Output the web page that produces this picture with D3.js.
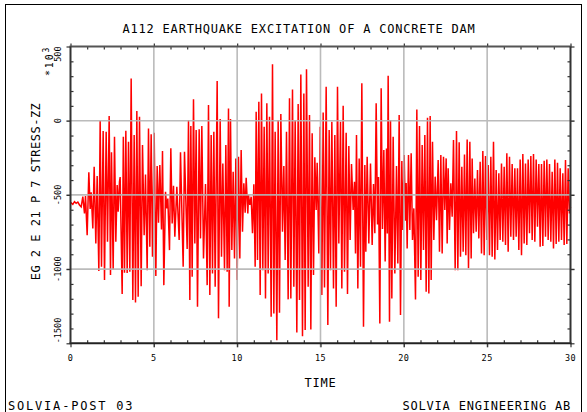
<!DOCTYPE html>
<html><head><meta charset="utf-8">
<script src="https://cdn.jsdelivr.net/npm/d3@7"></script>
<style>
body{margin:0;background:#fff}
svg{display:block}
text{font-family:"DejaVu Sans Mono",monospace;fill:#000}
</style>
</head><body>
<svg id="c" width="587" height="412"></svg>
<script>
// ---- data (stress in units of 10^3: successive peaks / troughs) ----
const time = [
0,0.14,0.24,0.34,0.44,0.54,0.64,0.74,0.84,0.90,1.00,1.10,1.18,1.24,1.34,1.42,1.52,1.60,1.70,1.78,1.86,1.96,2.04,2.14,2.22,2.32,2.40,2.46,2.56,2.64,2.72,2.80,2.86,2.94,2.98,3.10,3.17,3.24,3.32,3.40,3.48,3.56,3.64,3.74,3.82,3.90,3.98,4.06,4.14,4.24,4.32,4.42,4.50,4.60,4.68,4.76,4.84,4.92,5.02,5.12,5.20,5.28,5.36,5.46,5.52,5.60,5.70,5.78,5.84,
5.94,6.02,6.10,6.18,6.26,6.38,6.52,6.60,6.76,6.84,7.00,7.08,7.16,7.22,7.30,7.38,7.46,7.54,7.62,7.72,7.80,7.88,7.98,8.10,8.20,8.28,8.36,8.44,8.52,8.60,8.68,8.80,8.88,8.98,9.06,9.14,9.24,9.32,9.40,9.48,9.52,9.60,9.68,9.76,9.84,9.92,10.00,10.08,10.16,10.24,10.32,10.40,10.48,10.54,10.64,10.68,10.76,10.84,10.92,11.00,11.08,11.14,11.22,11.30,11.38,11.46,11.54,11.62,11.70,11.78,11.86,
11.94,12.04,12.12,12.20,12.28,12.38,12.46,12.54,12.62,12.72,12.80,12.88,12.96,13.06,13.14,13.22,13.32,13.40,13.48,13.58,13.66,13.74,13.82,13.92,14.00,14.08,14.16,14.26,14.34,14.42,14.50,14.58,14.66,14.74,14.80,14.90,14.98,15.08,15.16,15.24,15.34,15.44,15.52,15.60,15.68,15.78,15.86,15.94,16.02,16.10,16.20,16.28,16.36,16.44,16.54,16.62,16.70,16.78,16.86,16.96,17.04,17.10,17.16,17.24,17.32,17.40,17.48,17.58,17.66,17.72,17.80,17.90,
18.00,18.10,18.18,18.26,18.34,18.42,18.48,18.56,18.64,18.72,18.80,18.88,18.96,19.01,19.06,19.14,19.20,19.28,19.36,19.46,19.56,19.64,19.72,19.80,19.88,19.94,20.02,20.10,20.14,20.20,20.28,20.36,20.44,20.52,20.60,20.70,20.78,20.86,20.94,21.02,21.10,21.18,21.26,21.34,21.42,21.50,21.58,21.64,21.72,21.80,21.88,21.96,22.06,22.14,22.22,22.30,22.38,22.46,22.54,22.60,22.66,22.74,22.82,22.90,22.98,23.08,23.16,23.24,23.32,23.40,23.48,23.56,23.64,23.72,23.80,23.88,
23.96,24.04,24.10,24.18,24.26,24.34,24.42,24.50,24.58,24.66,24.74,24.82,24.90,24.98,25.06,25.14,25.22,25.30,25.38,25.46,25.54,25.62,25.70,25.78,25.86,25.94,26.02,26.10,26.18,26.26,26.34,26.42,26.50,26.58,26.66,26.74,26.82,26.90,26.98,27.06,27.14,27.22,27.30,27.38,27.46,27.54,27.62,27.70,27.78,27.86,27.94,28.02,28.10,28.18,28.26,28.34,28.42,28.50,28.58,28.66,28.74,28.82,28.90,28.98,29.06,29.14,29.22,29.30,29.38,29.46,29.54,29.62,29.70,29.78,29.86,29.94,30.00
];
const stress = [
-550,-564,-546,-557,-548,-568,-580,-512,-625,-508,-771,-348,-595,-483,-726,-310,-827,-373,-1013,0,-984,-70,-1074,-74,-815,31,-1040,-213,-1002,-108,-815,-434,-613,-411,-380,-1168,-108,-1025,-67,-1027,-142,-1018,285,-1209,-97,-1225,65,-1186,27,-1115,-164,-771,-362,-1007,-52,-849,-92,-917,-81,-1047,-306,-688,-299,-733,-204,-1108,-479,-591,-524,
-872,-186,-692,-438,-782,-445,-804,-213,-984,-209,-865,4,-1209,-36,-1052,144,-827,-63,-1254,-58,-793,-36,-928,-427,-1108,106,-1175,-97,-1029,-74,-1119,267,-1332,11,-917,-288,-1007,-164,-1018,83,-1254,11,-872,-344,-928,-254,-1074,-243,-928,-198,-748,-422,-620,-384,-625,-501,-568,-512,-759,-429,-984,61,-939,128,-1175,184,-1007,-40,-1198,117,-1029,
27,-1321,380,-1299,-74,-1479,4,-1294,45,-748,-306,-939,-74,-1204,151,-1198,211,-1119,4,-1427,112,-1209,312,-1452,184,-1411,346,-1119,38,-1407,-85,-1040,-247,-602,-283,-894,-40,-1175,56,-1124,229,-1377,-63,-1007,-7,-1130,-97,-1254,229,-827,-7,-1130,101,-1018,-81,-1168,-171,-804,-292,-602,-411,-894,-97,-1130,-254,-984,252,-1389,-299,-883,-243,-827,
-288,-838,-427,-759,117,-700,-380,-1366,218,-730,-198,-949,-187,-760,303,-1355,4,-1198,-108,-1029,-306,-962,38,-1310,-272,-737,-232,-674,-420,-861,-231,-737,-220,-804,-591,-1204,76,-1052,-36,-1074,-164,-872,-97,-1153,20,-1164,31,-1074,-142,-804,-377,-670,-265,-883,-231,-894,-243,-602,-254,-827,-321,-737,-422,-647,-130,-1007,-70,-1007,-146,-917,-310,-883,-227,-906,-126,-995,
-142,-928,-254,-759,-389,-748,-333,-793,-276,-894,-204,-906,-238,-804,-299,-906,-243,-917,-142,-935,-333,-872,-355,-804,-288,-816,-310,-838,-220,-883,-243,-782,-292,-804,-321,-782,-321,-872,-261,-906,-225,-827,-288,-838,-261,-759,-238,-804,-225,-816,-261,-715,-292,-849,-292,-845,-270,-782,-261,-804,-292,-816,-344,-861,-261,-831,-283,-816,-321,-804,-355,-838,-265,-831,-321,-625,-580
];
const xMajor = [0,5,10,15,20,25,30];
const yMajor = [500,0,-500,-1000,-1500];
const title = "A112 EARTHQUAKE EXCITATION OF A CONCRETE DAM";
const xTitle = "TIME";
const yTitle = "EG 2 E 21 P 7 STRESS-ZZ";
const footLeft = "SOLVIA-POST 03";
const footRight = "SOLVIA ENGINEERING AB";

// ---- drawing ----
const svg = d3.select("#c");
const L = 70.5, R = 570.5, T = 46.5, B = 343.3;
const x = d3.scaleLinear().domain([0, 30]).range([L, R]);
const y = d3.scaleLinear().domain([-1500, 500]).range([B, T]);
const xMinor = d3.range(0, 31, 1).filter(v => !xMajor.includes(v));
const yMinor = d3.range(-1500, 501, 100).filter(v => !yMajor.includes(v));

// page frame
svg.append("rect").attr("x", 5.5).attr("y", 4.5).attr("width", 576).attr("height", 430)
  .attr("fill", "none").attr("stroke", "#000").attr("stroke-width", 1);

// curve
const pts = time.map((t, i) => [t, stress[i]]);
svg.append("path").datum(pts)
  .attr("d", d3.line().x(d => x(d[0])).y(d => y(d[1])))
  .attr("fill", "none").attr("stroke", "#ff0000").attr("stroke-width", 1.5)
  .attr("stroke-linejoin", "miter");

// grid (drawn over curve)
const grid = svg.append("g").attr("stroke", "#b4b4b4").attr("stroke-width", 1.6).attr("opacity", 0.9);
grid.selectAll("line.v").data(xMajor.slice(1, -1)).join("line")
  .attr("x1", d => x(d)).attr("x2", d => x(d)).attr("y1", T).attr("y2", B + 4);
grid.selectAll("line.h").data(yMajor.slice(1, -1)).join("line")
  .attr("x1", L - 4).attr("x2", R + 4).attr("y1", d => y(d)).attr("y2", d => y(d));

// axes ticks using d3 axes
function styleAxis(g) {
  g.select(".domain").remove();
  g.selectAll(".tick line").attr("stroke", "#333").attr("stroke-width", 1.2);
  g.selectAll(".tick text").remove();
}
svg.append("g").attr("transform", `translate(0,${B})`)
  .call(d3.axisTop(x).tickValues(xMinor).tickSize(3)).call(styleAxis);
svg.append("g").attr("transform", `translate(0,${B})`)
  .call(d3.axisBottom(x).tickValues(xMajor).tickSize(4)).call(styleAxis);
svg.append("g").attr("transform", `translate(0,${T})`)
  .call(d3.axisBottom(x).tickValues(xMinor).tickSize(3)).call(styleAxis);
svg.append("g").attr("transform", `translate(0,${T})`)
  .call(d3.axisTop(x).tickValues(xMajor).tickSize(3)).call(styleAxis);
svg.append("g").attr("transform", `translate(${L},0)`)
  .call(d3.axisRight(y).tickValues(yMinor).tickSize(3)).call(styleAxis);
svg.append("g").attr("transform", `translate(${L},0)`)
  .call(d3.axisLeft(y).tickValues(yMajor).tickSize(4)).call(styleAxis);
svg.append("g").attr("transform", `translate(${R},0)`)
  .call(d3.axisLeft(y).tickValues(yMinor).tickSize(3)).call(styleAxis);
svg.append("g").attr("transform", `translate(${R},0)`)
  .call(d3.axisRight(y).tickValues(yMajor).tickSize(4)).call(styleAxis);

// axis lines
svg.append("line").attr("x1", L - 1).attr("x2", R + 1).attr("y1", T).attr("y2", T).attr("stroke", "#555").attr("stroke-width", 2);
svg.append("line").attr("x1", L - 1).attr("x2", R + 1).attr("y1", B).attr("y2", B).attr("stroke", "#222").attr("stroke-width", 2);
svg.append("line").attr("x1", L).attr("x2", L).attr("y1", T).attr("y2", B).attr("stroke", "#333").attr("stroke-width", 2);
svg.append("line").attr("x1", R).attr("x2", R).attr("y1", T).attr("y2", B).attr("stroke", "#333").attr("stroke-width", 2);

// x tick labels
svg.append("g").selectAll("text").data(xMajor).join("text")
  .attr("x", d => x(d)).attr("y", 360.5).attr("text-anchor", "middle")
  .attr("font-size", 8.5).attr("letter-spacing", 0.5).text(d => d);

// y tick labels (rotated)
svg.append("g").selectAll("text").data(yMajor).join("text")
  .attr("transform", d => `translate(61,${y(d)}) rotate(-90)`)
  .attr("text-anchor", d => d === 500 ? "end" : d === -1500 ? "start" : "middle")
  .attr("font-size", 8.5).attr("letter-spacing", 0).text(d => d);

// multiplier
const mul = svg.append("text").attr("transform", "translate(52.5,76) rotate(-90)")
  .attr("font-size", 10).attr("letter-spacing", 1.8);
mul.append("tspan").text("*10");
mul.append("tspan").attr("dy", -4).attr("font-size", 8).text("3");

// titles
svg.append("text").attr("x", 299).attr("y", 33).attr("text-anchor", "middle")
  .attr("font-size", 12).attr("letter-spacing", 0.8).text(title);
svg.append("text").attr("x", x(15)).attr("y", 386.6).attr("text-anchor", "middle")
  .attr("font-size", 12).attr("letter-spacing", 0.8).text(xTitle);
svg.append("text").attr("transform", `translate(39.5,191.5) rotate(-90)`).attr("text-anchor", "middle")
  .attr("font-size", 12).attr("letter-spacing", 0.5).text(yTitle);
svg.append("text").attr("x", 8).attr("y", 409.6)
  .attr("font-size", 12).attr("letter-spacing", 1.8).text(footLeft);
svg.append("text").attr("x", 571).attr("y", 409.6).attr("text-anchor", "end")
  .attr("font-size", 12).attr("letter-spacing", 0.8).text(footRight);
</script>
</body></html>
